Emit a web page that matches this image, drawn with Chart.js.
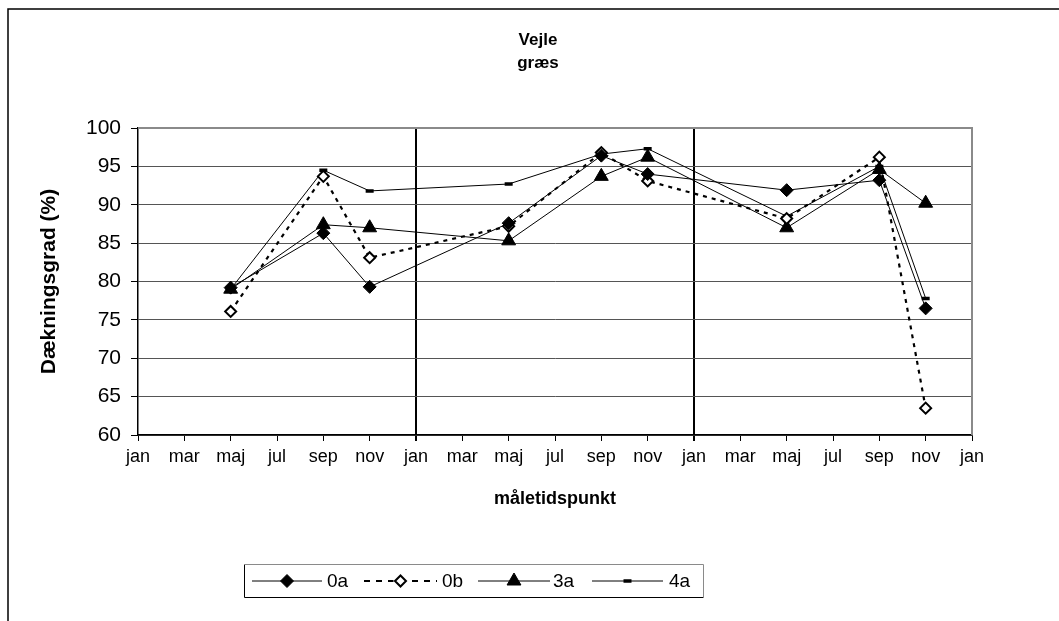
<!DOCTYPE html>
<html>
<head>
<meta charset="utf-8">
<script src="https://cdn.jsdelivr.net/npm/chart.js@4/dist/chart.umd.min.js"></script>
<style>
  html, body { margin: 0; padding: 0; background: #fff; }
  #wrap { width: 1059px; height: 621px; }
</style>
</head>
<body>
<div id="wrap"><canvas id="chart" width="1059" height="621"></canvas></div>
<script>
const MONTHS = ['jan', 'mar', 'maj', 'jul', 'sep', 'nov',
                'jan', 'mar', 'maj', 'jul', 'sep', 'nov',
                'jan', 'mar', 'maj', 'jul', 'sep', 'nov', 'jan'];

// one value per month label, null where nothing was measured
const s0a = [null, null, 79.2, null, 86.3, 79.3, null, null, 87.6, null, 96.4, 94.0, null, null, 91.9, null, 93.2, 76.5, null];
const s0b = [null, null, 76.1, null, 93.7, 83.1, null, null, 87.2, null, 96.8, 93.1, null, null, 88.2, null, 96.2, 63.5, null];
const s3a = [null, null, 79.0, null, 87.4, 87.0, null, null, 85.3, null, 93.7, 96.2, null, null, 87.0, null, 94.6, 90.2, null];
const s4a = [null, null, 79.0, null, 94.5, 91.8, null, null, 92.7, null, 96.6, 97.3, null, null, 88.5, null, 95.0, 77.8, null];

const TITLE   = ['Vejle', 'græs'];
const Y_TITLE = 'Dækningsgrad (%)';
const X_TITLE = 'måletidspunkt';
const YEAR_BREAKS = [6, 12];

const FONT = 'Arial, "Liberation Sans", sans-serif';

// frame + title behind everything
const framePlugin = {
    id: 'frame',
    beforeDraw(chart) {
        const ctx = chart.ctx;
        ctx.save();
        ctx.fillStyle = '#fff';
        ctx.fillRect(0, 0, chart.width, chart.height);
        ctx.strokeStyle = '#000';
        ctx.lineWidth = 1.5;
        ctx.beginPath();
        ctx.moveTo(8, chart.height);
        ctx.lineTo(8, 9);
        ctx.lineTo(chart.width, 9);
        ctx.stroke();

        ctx.fillStyle = '#000';
        ctx.font = 'bold 17px ' + FONT;
        ctx.textAlign = 'center';
        ctx.textBaseline = 'middle';
        ctx.fillText(TITLE[0], 538, 40);
        ctx.fillText(TITLE[1], 538, 63);
        ctx.restore();
    },
    beforeDatasetsDraw(chart) {
        const { ctx, chartArea: a } = chart;
        ctx.save();
        ctx.strokeStyle = '#8a8a8a';
        ctx.lineWidth = 2;
        ctx.beginPath();
        ctx.moveTo(a.left, a.top);
        ctx.lineTo(a.right, a.top);
        ctx.lineTo(a.right, a.bottom);
        ctx.stroke();
        ctx.restore();
    }
};

// legend box drawn like the original: line - marker - line, then label
const legendPlugin = {
    id: 'lineLegend',
    afterDraw(chart) {
        const ctx = chart.ctx;
        const box = { x: 244.5, y: 564.5, w: 459, h: 33 };
        const items = [
            { x0: 252, x1: 322, tx: 327 },
            { x0: 364, x1: 437, tx: 442 },
            { x0: 478, x1: 550, tx: 553 },
            { x0: 592, x1: 663, tx: 669 },
        ];
        const cy = box.y + box.h / 2;
        ctx.save();
        ctx.lineWidth = 1;
        ctx.strokeStyle = '#000';
        ctx.beginPath();
        ctx.moveTo(box.x, box.y);
        ctx.lineTo(box.x, box.y + box.h);
        ctx.lineTo(box.x + box.w, box.y + box.h);
        ctx.stroke();
        ctx.strokeStyle = '#8a8a8a';
        ctx.beginPath();
        ctx.moveTo(box.x, box.y);
        ctx.lineTo(box.x + box.w, box.y);
        ctx.lineTo(box.x + box.w, box.y + box.h);
        ctx.stroke();

        chart.data.datasets.forEach((ds, i) => {
            const it = items[i];
            ctx.strokeStyle = ds.borderColor;
            ctx.lineWidth = ds.borderWidth;
            ctx.setLineDash(ds.borderDash ? [6, 6] : []);
            ctx.beginPath();
            ctx.moveTo(it.x0, cy);
            ctx.lineTo(it.x1, cy);
            ctx.stroke();
            ctx.setLineDash([]);

            if (ds.borderDash) {
                // clear the dash behind the open marker
                ctx.fillStyle = '#fff';
                ctx.fillRect((it.x0 + it.x1) / 2 - 7, cy - 7, 14, 14);
            }
            ctx.fillStyle = ds.pointBackgroundColor;
            ctx.strokeStyle = ds.pointBorderColor;
            ctx.lineWidth = ds.pointBorderWidth;
            Chart.helpers.drawPoint(ctx, {
                pointStyle: ds.pointStyle,
                radius: ds.pointRadius,
                rotation: 0,
                borderWidth: ds.pointBorderWidth,
            }, (it.x0 + it.x1) / 2, cy);

            ctx.fillStyle = '#000';
            ctx.font = '19px ' + FONT;
            ctx.textAlign = 'left';
            ctx.textBaseline = 'middle';
            ctx.fillText(ds.label, it.tx, cy + 1);
        });
        ctx.restore();
    }
};

const isBreak = c => YEAR_BREAKS.includes(c.index);

new Chart(document.getElementById('chart').getContext('2d'), {
    type: 'line',
    data: {
        labels: MONTHS,
        datasets: [
            {
                label: '0a', data: s0a,
                borderColor: '#000', borderWidth: 1,
                pointStyle: 'rectRot', pointRadius: 6.5,
                pointBackgroundColor: '#000', pointBorderColor: '#000', pointBorderWidth: 1,
            },
            {
                label: '0b', data: s0b,
                borderColor: '#000', borderWidth: 2.2, borderDash: [4, 5],
                pointStyle: 'rectRot', pointRadius: 5.5,
                pointBackgroundColor: '#fff', pointBorderColor: '#000', pointBorderWidth: 2,
            },
            {
                label: '3a', data: s3a,
                borderColor: '#000', borderWidth: 1,
                pointStyle: 'triangle', pointRadius: 8,
                pointBackgroundColor: '#000', pointBorderColor: '#000', pointBorderWidth: 1,
            },
            {
                label: '4a', data: s4a,
                borderColor: '#000', borderWidth: 1,
                pointStyle: 'line', pointRadius: 4,
                pointBackgroundColor: '#000', pointBorderColor: '#000', pointBorderWidth: 3.5,
            },
        ]
    },
    plugins: [framePlugin, legendPlugin],
    options: {
        responsive: false,
        animation: false,
        spanGaps: true,
        elements: { line: { tension: 0 } },
        layout: { padding: { left: 8, right: 87, top: 128, bottom: 106 } },
        plugins: {
            legend: { display: false },
            title: { display: false },
            tooltip: { enabled: false },
        },
        scales: {
            x: {
                offset: false,
                afterFit: s => { s.height = 80; },
                border: { color: '#000', width: 1.5 },
                grid: {
                    color: c => isBreak(c) ? '#000' : 'rgba(0,0,0,0)',
                    lineWidth: c => isBreak(c) ? 2 : 1,
                    tickColor: '#000',
                    tickWidth: c => isBreak(c) ? 2 : 1,
                    tickLength: 6,
                },
                ticks: {
                    color: '#000', font: { family: FONT, size: 18 },
                    autoSkip: false, maxRotation: 0, padding: 5,
                },
                title: {
                    display: true, text: X_TITLE, color: '#000',
                    font: { family: FONT, size: 18, weight: 'bold' },
                    padding: { top: 0, bottom: 5 },
                },
            },
            y: {
                min: 60, max: 100,
                afterFit: s => { s.width = 130; },
                border: { color: '#000', width: 1.5 },
                grid: { color: '#555', lineWidth: 1, tickColor: '#000', tickLength: 7 },
                ticks: {
                    stepSize: 5, color: '#000', font: { family: FONT, size: 21 }, padding: 10,
                },
                title: {
                    display: true, text: Y_TITLE, color: '#000',
                    font: { family: FONT, size: 21, weight: 'bold' },
                    padding: { top: 29, bottom: 0 },
                },
            },
        },
    },
});
</script>
</body>
</html>
